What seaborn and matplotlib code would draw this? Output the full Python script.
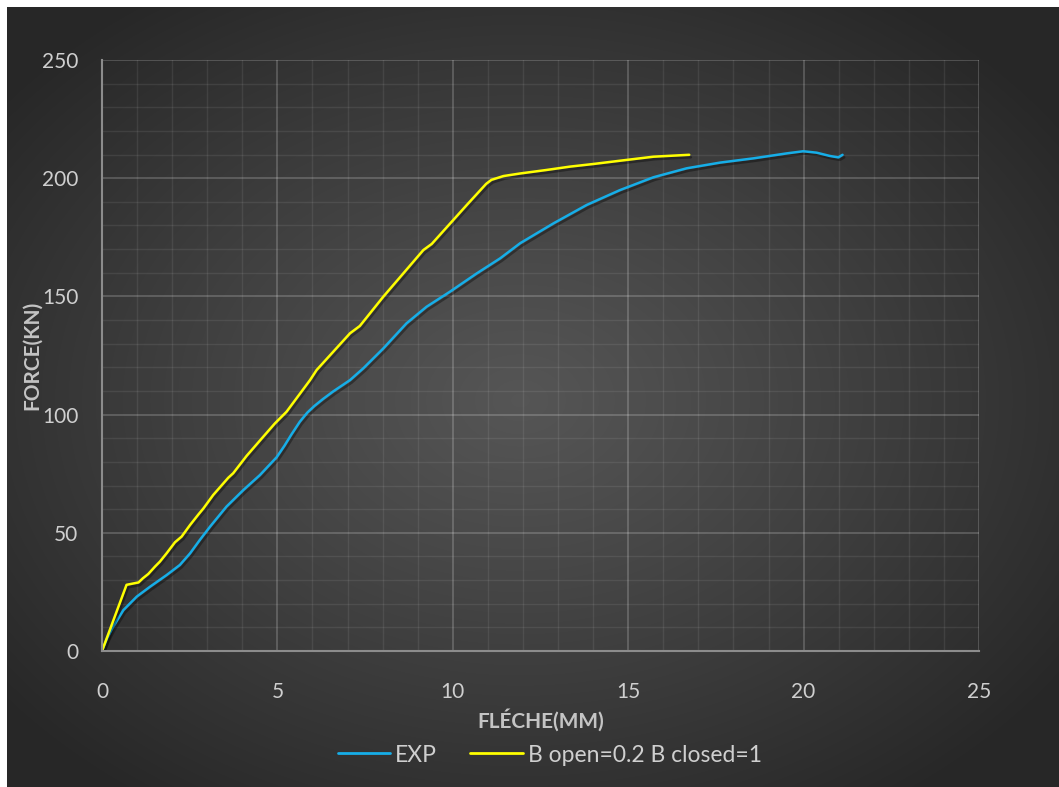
import numpy as np
import pandas as pd
import matplotlib
matplotlib.use("Agg")
import matplotlib.pyplot as plt
import matplotlib.patheffects as pe
from matplotlib.ticker import MultipleLocator
import seaborn as sns

# Load-deflection curves
exp_x = [0, 0.15, 0.32, 0.61, 0.99, 1.37, 1.84, 2.22, 2.51, 2.79, 3.08, 3.55, 4.03,
         4.50, 4.98, 5.20, 5.40, 5.64, 5.85, 6.05, 6.30, 6.59, 7.07, 7.45, 8.02,
         8.68, 9.25, 9.92, 10.68, 11.35, 11.92, 12.87, 13.82, 14.77, 15.72, 16.67,
         17.62, 18.57, 19.52, 19.99, 20.37, 20.75, 20.99, 21.11]
exp_y = [0, 5.5, 10.3, 17.3, 23.0, 27.2, 32.1, 36.4, 41.3, 47.0, 52.6, 61.1, 68.1,
         74.4, 82.0, 86.8, 91.6, 97.0, 100.8, 103.6, 106.6, 109.8, 114.6, 119.6,
         128.0, 138.6, 145.6, 152.0, 159.7, 166.1, 172.5, 180.9, 188.7, 195.0,
         200.4, 204.2, 206.6, 208.4, 210.5, 211.4, 210.8, 209.4, 208.8, 209.9]

sim_x = [0, 0.70, 1.04, 1.16, 1.32, 1.51, 1.65, 1.84, 2.08, 2.27, 2.51, 2.75, 2.89,
         3.17, 3.60, 3.74, 4.12, 4.60, 4.93, 5.26, 5.93, 6.12, 7.07, 7.35, 8.02,
         9.16, 9.40, 10.40, 10.95, 11.10, 11.44, 11.92, 12.68, 13.34, 14.00, 14.77,
         15.72, 16.74]
sim_y = [0, 28.0, 29.0, 30.7, 32.6, 35.7, 37.8, 41.3, 46.0, 48.4, 53.3, 57.8, 60.3,
         66.0, 73.3, 75.2, 82.5, 90.7, 96.3, 101.2, 114.6, 118.9, 134.4, 137.5,
         149.9, 169.6, 172.2, 188.7, 197.6, 199.3, 200.9, 202.0, 203.5, 204.9,
         206.0, 207.4, 209.1, 209.9]

series_names = ["EXP", "B open=0.2 B closed=1"]
series_colors = ["#16AEE8", "#FFFF00"]

x_ticks = [0, 5, 10, 15, 20, 25]
y_ticks = [0, 50, 100, 150, 200, 250]

df = pd.concat([
    pd.DataFrame({"x": exp_x, "y": exp_y, "serie": series_names[0]}),
    pd.DataFrame({"x": sim_x, "y": sim_y, "serie": series_names[1]}),
], ignore_index=True)

sns.set_theme(style="dark")
plt.rcParams["font.family"] = ["Lato", "DejaVu Sans"]

W, H = 1059, 787
fig = plt.figure(figsize=(W / 100, H / 100), dpi=100, facecolor="white")

# Radial dark background
bg = fig.add_axes([0, 0, 1, 1], zorder=-10)
yy, xx = np.mgrid[0:H, 0:W]
cx, cy = 520, 400
r = np.sqrt(((xx - cx) / (W * 0.62)) ** 2 + ((yy - cy) / (H * 0.62)) ** 2)
val = 0.335 - (0.335 - 0.155) * np.clip(r, 0, 1) ** 1.1
img = np.dstack([val, val, val])
img[:7, :, :] = 1.0
img[:, :7, :] = 1.0
bg.imshow(img, aspect="auto", interpolation="bilinear")
bg.set_axis_off()

ax = fig.add_axes([102 / W, 1 - 651 / H, (979 - 102) / W, (651 - 60) / H])
ax.set_facecolor("none")

sns.lineplot(data=df, x="x", y="y", hue="serie", hue_order=series_names,
             palette=series_colors, sort=False, estimator=None, linewidth=1.8,
             ax=ax, legend=True)
for line in ax.get_lines():
    line.set_solid_joinstyle("round")
    line.set_path_effects([
        pe.SimpleLineShadow(offset=(1.2, -1.8), shadow_color="black", alpha=0.35),
        pe.Normal(),
    ])

ax.set_xlim(0, 25)
ax.set_ylim(0, 250)
ax.set_xticks(x_ticks)
ax.set_yticks(y_ticks)
ax.xaxis.set_minor_locator(MultipleLocator(1))
ax.yaxis.set_minor_locator(MultipleLocator(10))
ax.grid(which="major", color="white", alpha=0.2, linewidth=1.3)
ax.grid(which="minor", color="white", alpha=0.08, linewidth=1.0)
ax.set_axisbelow(True)

for side in ["top", "right"]:
    ax.spines[side].set_visible(False)
for side in ["left", "bottom"]:
    ax.spines[side].set_visible(True)
    ax.spines[side].set_color("#8c8c8c")
    ax.spines[side].set_linewidth(1.5)

ax.tick_params(axis="both", which="both", length=0, colors="#cfcfcf", labelsize=15)
ax.tick_params(axis="x", pad=22)
ax.tick_params(axis="y", pad=17)

ax.set_xlabel("FLÉCHE(MM)", fontsize=15, fontweight="bold", color="#c4c4c4")
ax.set_ylabel("FORCE(KN)", fontsize=15, fontweight="bold", color="#c4c4c4")
ax.xaxis.set_label_coords(0.5, -0.097)
ax.yaxis.set_label_coords(-0.068, 0.5)

handles, labels = ax.get_legend_handles_labels()
ax.legend_.remove()
leg = fig.legend(handles, labels, loc="center", bbox_to_anchor=(0.519, 1 - 755 / H),
                 ncol=2, frameon=False, fontsize=16.5, handlelength=2.3,
                 columnspacing=1.45, handletextpad=0.2)
for t in leg.get_texts():
    t.set_color("#cfcfcf")
for h in leg.legend_handles:
    h.set_linewidth(2.0)
    h.set_path_effects([])

fig.savefig("out.png", dpi=100, facecolor=fig.get_facecolor())
